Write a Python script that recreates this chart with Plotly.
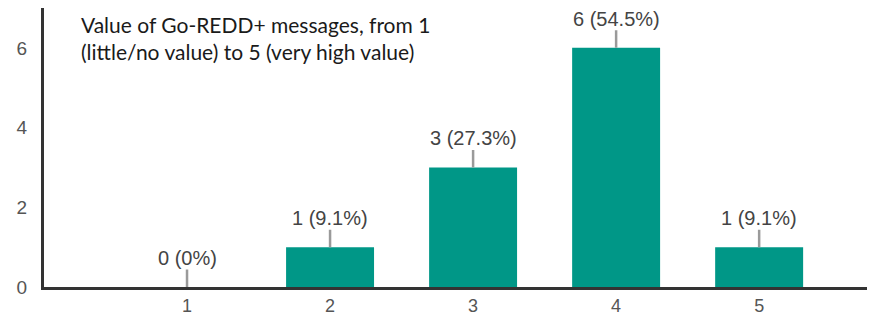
import plotly.graph_objects as go

categories = ["1", "2", "3", "4", "5"]
counts = [0, 1, 3, 6, 1]
pct_labels = ["0 (0%)", "1 (9.1%)", "3 (27.3%)", "6 (54.5%)", "1 (9.1%)"]
y_ticks = [0, 2, 4, 6]
title_text = "Value of Go-REDD+ messages, from 1<br>(little/no value) to 5 (very high value)"

xpos = [int(c) for c in categories]

fig = go.Figure()
fig.add_trace(go.Bar(
    x=xpos, y=counts, width=0.615,
    marker=dict(color="#009787", line=dict(width=0)),
    hoverinfo="skip",
))

for x, v, t in zip(xpos, counts, pct_labels):
    fig.add_annotation(
        x=x, y=v, xref="x", yref="y", text=t,
        showarrow=True, arrowhead=0, arrowwidth=2.5, arrowcolor="#9a9a9a",
        ax=0, ay=-29, standoff=0, startstandoff=0, borderpad=0,
        font=dict(family="Liberation Sans, Arial", size=20, color="#444444"),
    )

fig.add_annotation(
    x=0.042, y=1.0, xref="paper", yref="paper", xanchor="left", yanchor="top",
    text=title_text, showarrow=False, align="left", yshift=-2,
    font=dict(family="Lato, Open Sans", size=21, color="#1a1a1a"),
)

fig.update_layout(
    width=867, height=307,
    margin=dict(l=36, r=0, t=0, b=28, autoexpand=False),
    paper_bgcolor="white", plot_bgcolor="white",
    showlegend=False,
    xaxis=dict(
        range=[0, 5.81], tickvals=xpos, ticktext=categories,
        showgrid=False, zeroline=False, showline=True, linecolor="#333333", linewidth=3,
        ticks="", ticklabelstandoff=0, automargin=False,
        tickfont=dict(family="Liberation Sans, Arial", size=18, color="#555555"),
    ),
    yaxis=dict(
        range=[0, 7], tickvals=y_ticks, ticktext=[str(v) for v in y_ticks],
        showgrid=False, zeroline=False, showline=True, linecolor="#333333", linewidth=3,
        ticks="", ticklabelstandoff=10, automargin=False,
        tickfont=dict(family="Liberation Sans, Arial", size=19, color="#555555"),
    ),
)

fig.write_html("out.html")
